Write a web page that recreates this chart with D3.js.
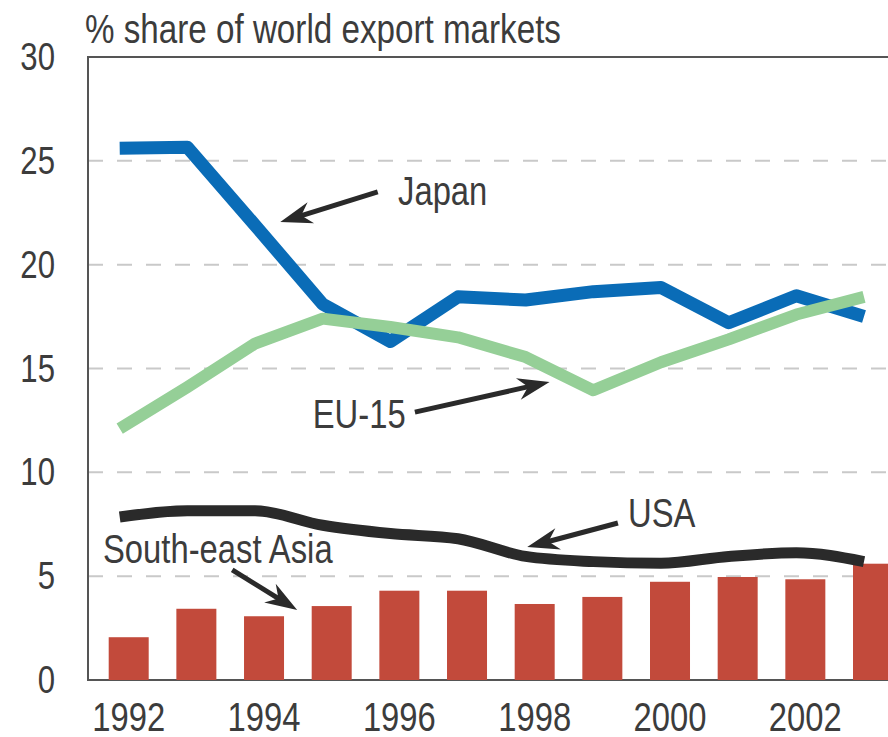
<!DOCTYPE html>
<html>
  <head>
    <script src="https://d3js.org/d3.v7.min.js"></script>
    <style>
      body { margin: 0; background: #fff; }
      text { font-family: "Liberation Sans", Arial, sans-serif; fill: #3c3c3c; }
    </style>
  </head>
  <body>
    <script>

    // data (% share of world export markets)
    const years = [1992, 1993, 1994, 1995, 1996, 1997, 1998, 1999, 2000, 2001, 2002, 2003];
    const japan = [25.6, 25.65, 21.9, 18.1, 16.3, 18.45, 18.3, 18.7, 18.9, 17.2, 18.5, 17.5];
    const eu15 = [12.1, 14.1, 16.2, 17.4, 17.0, 16.5, 15.55, 13.95, 15.3, 16.4, 17.6, 18.45];
    const usa = [7.85, 8.15, 8.15, 7.45, 7.05, 6.8, 5.95, 5.7, 5.62, 5.95, 6.13, 5.7];
    const seAsia = [2.06, 3.43, 3.07, 3.56, 4.3, 4.3, 3.66, 4.0, 4.73, 4.96, 4.85, 5.6];
    const yTicks = [0, 5, 10, 15, 20, 25, 30];
    const xTicks = [1992, 1994, 1996, 1998, 2000, 2002];

    // annotations in data units: label position and arrow (from -> to)
    const notes = [
      { text: "Japan", tx: 1995.98, ty: 22.87, x1: 1995.68, y1: 23.5, x2: 1994.24, y2: 22.05 },
      { text: "EU-15", tx: 1994.72, ty: 12.13, x1: 1996.23, y1: 12.9, x2: 1998.22, y2: 14.35 },
      { text: "USA", tx: 1999.38, ty: 7.37, x1: 1999.23, y1: 7.56, x2: 1997.89, y2: 6.4 },
      { text: "South-east Asia", tx: 1991.62, ty: 5.63, x1: 1993.53, y1: 5.3, x2: 1994.49, y2: 3.37 }
    ];

    const width = 888;
    const height = 737;
    const plotLeft = 88, plotTop = 57, plotBottom = 680;
    const narrow = 0.82; // squeeze Liberation Sans to look like a narrow face

    const x = d3.scalePoint().domain(years).range([128.7, 873]);
    const xYear = d3.scaleLinear().domain([1992, 2003]).range([128.7, 873]);
    const y = d3.scaleLinear().domain([0, 30]).range([plotBottom, plotTop]);
    const lineShift = -9;

    const svg = d3.select("body").append("svg")
        .attr("width", width)
        .attr("height", height);

    function label(parent, px, py, str, size, anchor) {
      return parent.append("text")
          .attr("transform", `translate(${px},${py}) scale(${narrow},1)`)
          .attr("text-anchor", anchor || "start")
          .style("font-size", size + "px")
          .text(str);
    }

    // title
    label(svg, 85, 43, "% share of world export markets", 40.5);

    // dashed gridlines
    svg.append("g")
      .selectAll("line")
      .data(yTicks.filter(d => d > 0 && d < 30))
      .join("line")
        .attr("x1", plotLeft)
        .attr("x2", width)
        .attr("y1", d => y(d))
        .attr("y2", d => y(d))
        .attr("stroke", "#c9c9c9")
        .attr("stroke-width", 2)
        .attr("stroke-dasharray", "15,14");

    // frame: left, top, bottom
    svg.append("path")
        .attr("d", `M${width},${y(30)}H${plotLeft}V${y(0)}H${width}`)
        .attr("fill", "none")
        .attr("stroke", "#555")
        .attr("stroke-width", 2);

    // y tick labels
    const yl = svg.append("g");
    yTicks.forEach(d => label(yl, 55, y(d) + 13, d, 38, "end"));

    // x tick labels
    const xl = svg.append("g");
    xTicks.forEach(d => label(xl, x(d), 731, d, 40, "middle"));

    // South-east Asia bars
    svg.append("g")
      .selectAll("rect")
      .data(seAsia)
      .join("rect")
        .attr("x", (d, i) => x(years[i]) - 20)
        .attr("width", 40)
        .attr("y", d => y(d))
        .attr("height", d => y(0) - y(d))
        .attr("fill", "#c24a3b");

    const line = d3.line()
        .x((d, i) => x(years[i]) + lineShift)
        .y(d => y(d));

    svg.append("path")
        .attr("d", line.curve(d3.curveMonotoneX)(usa))
        .attr("fill", "none")
        .attr("stroke", "#2a2a2a")
        .attr("stroke-width", 11)
        .attr("stroke-linejoin", "round");

    svg.append("path")
        .attr("d", line.curve(d3.curveLinear)(japan))
        .attr("fill", "none")
        .attr("stroke", "#0a6cb7")
        .attr("stroke-width", 13)
        .attr("stroke-linejoin", "round");

    svg.append("path")
        .attr("d", line.curve(d3.curveLinear)(eu15))
        .attr("fill", "none")
        .attr("stroke", "#95cf97")
        .attr("stroke-width", 12)
        .attr("stroke-linejoin", "round");

    // annotations
    const ann = svg.append("g");
    notes.forEach(n => {
      const x1 = xYear(n.x1), y1 = y(n.y1), x2 = xYear(n.x2), y2 = y(n.y2);
      const a = Math.atan2(y2 - y1, x2 - x1) * 180 / Math.PI;
      const len = Math.hypot(x2 - x1, y2 - y1);
      const g = ann.append("g")
          .attr("transform", `translate(${x1},${y1}) rotate(${a})`);
      g.append("line")
          .attr("x1", 0).attr("y1", 0)
          .attr("x2", len - 18).attr("y2", 0)
          .attr("stroke", "#2a2a2a")
          .attr("stroke-width", 5);
      g.append("path")
          .attr("d", `M${len},0L${len - 32},-11L${len - 22},0L${len - 32},11Z`)
          .attr("fill", "#2a2a2a");
      label(ann, xYear(n.tx), y(n.ty), n.text, 40);
    });

    </script>
  </body>
</html>
